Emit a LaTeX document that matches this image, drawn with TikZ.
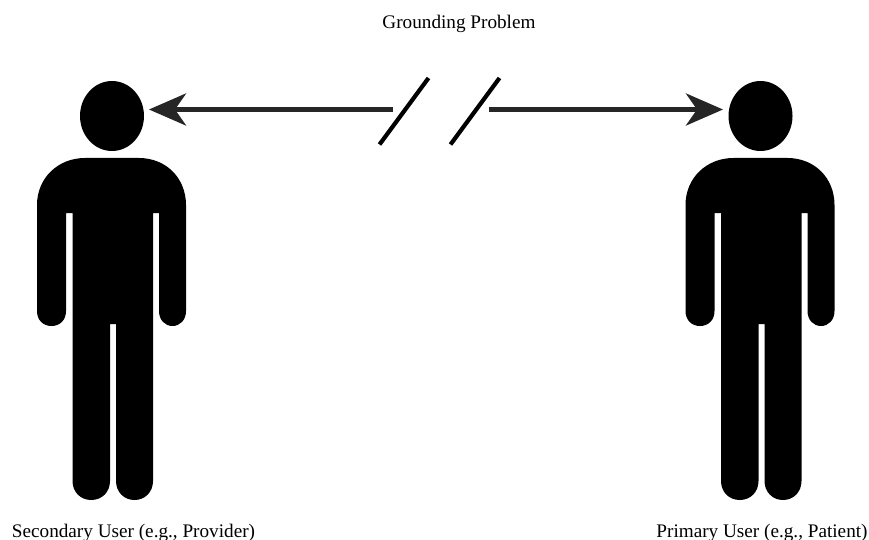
\documentclass[tikz,border=0pt]{standalone}
\usepackage{fontspec}
\setmainfont{Liberation Serif}
\usetikzlibrary{arrows.meta}
\tikzset{
  x=1pt,y=-1pt,
  lbl/.style={font=\fontsize{19.2}{22}\selectfont,text=black,inner sep=0pt,anchor=base},
  conn/.style={draw=black!85,line width=5pt,-{Stealth[length=37pt,width=32pt,inset=11pt]}},
  slash/.style={draw=black,line width=4.2pt},
}
\newcommand{\personbody}[1]{%
  \begin{scope}[xshift=#1]
    \fill[black] (37,205) .. controls (37,178) and (58,158) .. (85,158)
      -- (139,158) .. controls (166,158) and (186,178) .. (186,205)
      -- (186,311) .. controls (186,320) and (180,326) .. (172.5,326)
      .. controls (165,326) and (159,320) .. (159,311)
      -- (159,213) -- (153,213)
      -- (153,481) .. controls (153,492) and (145,500) .. (134.5,500)
      .. controls (124,500) and (116,492) .. (116,481)
      -- (116,324) -- (110,324)
      -- (110,481) .. controls (110,492) and (102,500) .. (91.25,500)
      .. controls (80.5,500) and (72.5,492) .. (72.5,481)
      -- (72.5,213) -- (66,213)
      -- (66,311) .. controls (66,320) and (60,326) .. (51.5,326)
      .. controls (43,326) and (37,320) .. (37,311) -- cycle;
  \end{scope}}
\begin{document}
\begin{tikzpicture}
\useasboundingbox (0,0) rectangle (869,540);
\personbody{0pt}
\personbody{648.5pt}
\fill[black] (112,116) ellipse [x radius=32pt,y radius=35pt];
\fill[black] (760.5,116) ellipse [x radius=32pt,y radius=35pt];
\coordinate (headL) at (112,116);
\coordinate (headR) at (760.5,116);
\coordinate (tipL) at (149,109.5);
\coordinate (tipR) at (723,109.5);
\coordinate (breakL) at (393,109.5);
\coordinate (breakR) at (488.5,109.5);
\coordinate (s1a) at (428.5,78);
\coordinate (s1b) at (379.5,144.5);
\coordinate (s2a) at (499.5,78);
\coordinate (s2b) at (450.5,144.5);
\draw[conn] (breakL) -- (tipL);
\draw[conn] (breakR) -- (tipR);
\draw[slash] (s1a) -- (s1b);
\draw[slash] (s2a) -- (s2b);
\node[lbl] (title) at (459,28.5) {Grounding Problem};
\node[lbl] (secondary) at (133.5,537) {Secondary User (e.g., Provider)};
\node[lbl] (primary) at (762,537) {Primary User (e.g., Patient)};
\end{tikzpicture}
\end{document}
